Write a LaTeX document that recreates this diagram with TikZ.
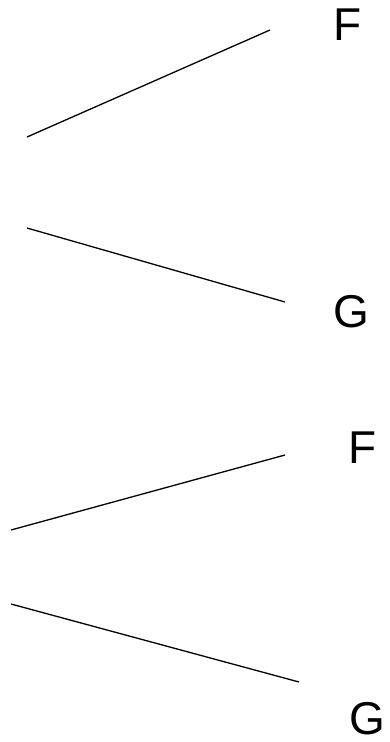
\documentclass[tikz,border=0pt]{standalone}
\usepackage{fontspec}
\setmainfont{Liberation Sans}
\begin{document}
\begin{tikzpicture}[x=1pt,y=-1pt,
  edge/.style={line width=1.3pt},
  lab/.style={inner sep=0pt,font=\fontsize{46}{46}\selectfont}]
\useasboundingbox (0,0) rectangle (390,742);
\coordinate (a1) at (27,137);
\coordinate (b1) at (270,30);
\coordinate (a2) at (27,228);
\coordinate (b2) at (285,302);
\coordinate (a3) at (11,530);
\coordinate (b3) at (285,455);
\coordinate (a4) at (11,604);
\coordinate (b4) at (299,682);
\draw[edge] (a1) -- (b1);
\draw[edge] (a2) -- (b2);
\draw[edge] (a3) -- (b3);
\draw[edge] (a4) -- (b4);
\node[lab] (f1) at (348,25) {F};
\node[lab] (g1) at (351.5,311.5) {G};
\node[lab] (f2) at (363,448) {F};
\node[lab] (g2) at (367,718.5) {G};
\end{tikzpicture}
\end{document}
